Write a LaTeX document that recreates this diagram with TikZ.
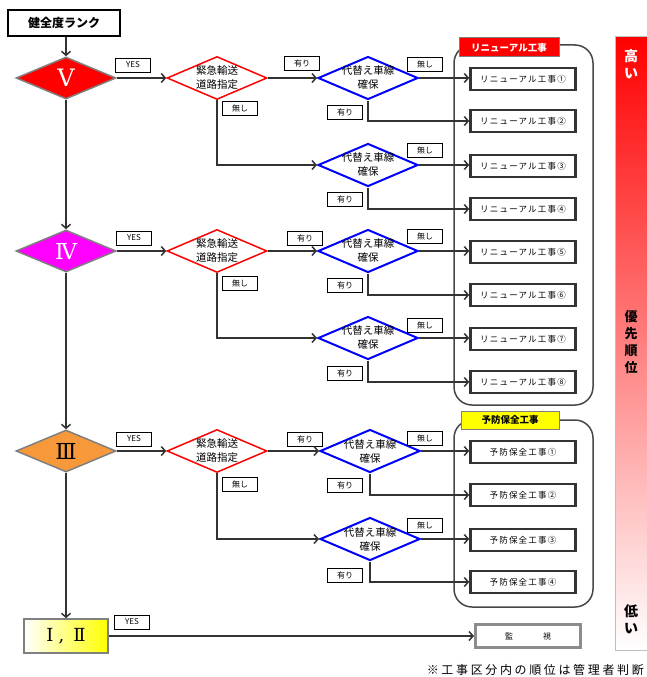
\documentclass[tikz,border=0pt]{standalone}
\usepackage{fontspec}
\setmainfont{Noto Sans CJK JP}
\newfontfamily\rmn{DejaVu Serif}
\usetikzlibrary{shapes.geometric,arrows.meta}
\definecolor{ln}{HTML}{333333}
\definecolor{rankorange}{HTML}{F7993B}
\definecolor{grayb}{HTML}{7F7F7F}
\definecolor{mag}{RGB}{255,0,255}
\definecolor{yel}{RGB}{255,255,0}
\definecolor{rd}{RGB}{255,0,0}
\begin{document}
\begin{tikzpicture}[x=1pt,y=-1pt,
  conn/.style={draw=ln, line width=1.5pt, -{Straight Barb[length=4pt,width=9pt,line width=1.5pt]}},
  lab/.style={draw=black, line width=0.8pt, fill=white, minimum width=35pt, minimum height=14pt, inner sep=0pt, font=\fontsize{8}{9}\selectfont},
  rank/.style={diamond, draw=grayb, line width=1.5pt, minimum width=100pt, minimum height=42pt, inner sep=0pt},
  road/.style={diamond, draw=rd, line width=1.5pt, fill=white, minimum width=100pt, minimum height=43pt, inner sep=0pt},
  alt/.style={road, draw=blue, line width=2pt},
  dtext/.style={align=center, font=\fontsize{10.5}{14}\selectfont, inner sep=0pt},
  work/.style={draw=ln, line width=2.5pt, fill=white, minimum width=105pt, minimum height=22pt, inner sep=0pt, font=\fontsize{8.5}{10}\selectfont\addfontfeatures{LetterSpace=14}},
  group/.style={draw=ln!90, line width=1.5pt, rounded corners=18pt, minimum width=139pt},
  tab/.style={draw=grayb, line width=1pt, inner sep=0pt, font=\bfseries\fontsize{9.5}{11}\selectfont}
]
\useasboundingbox (0,0) rectangle (646,677);

% priority bar
\node[draw=gray!50, line width=1pt, minimum width=34pt, minimum height=613pt, inner sep=0pt,
  top color=rd, middle color={rgb,255:red,248;green,170;blue,170}, bottom color=white] (bar) at (632,343.5) {};
\node[text=white, align=center, font=\bfseries\fontsize{14}{17}\selectfont] (hi) at (631,64) {高\\い};
\node[align=center, font=\bfseries\fontsize{13}{17}\selectfont] (prio) at (631,342) {優\\先\\順\\位};
\node[align=center, font=\bfseries\fontsize{14}{17}\selectfont] (lo) at (631,619) {低\\い};

% groups
\node[group, minimum height=360pt] (ren) at (523.5,225) {};
\node[group, minimum height=187pt] (pre) at (523.5,513.5) {};
\node[tab, fill=rd, text=white, minimum width=100pt, minimum height=19pt] (rentab) at (509,47.5) {リニューアル工事};
\node[tab, fill=yel, minimum width=98pt, minimum height=18pt] (pretab) at (510,420) {予防保全工事};

% title
\node[draw=black, line width=2pt, minimum width=112pt, minimum height=26pt, inner sep=0pt, font=\bfseries\fontsize{12}{14}\selectfont] (title) at (64,23) {健全度ランク};

% rank diamonds
\node[rank, fill=rd, label={[text=white, font=\rmn\fontsize{24}{24}\selectfont]center:V}] (V) at (66,78) {};
\node[rank, fill=mag, label={[text=white, font=\rmn\fontsize{22}{22}\selectfont]center:Ⅳ}] (IV) at (66,251) {};
\node[rank, fill=rankorange, label={[font=\rmn\fontsize{22}{22}\selectfont]center:Ⅲ}] (III) at (66,451) {};
\node[draw=grayb, line width=1.5pt, left color=white, right color=yel, minimum width=84pt, minimum height=34pt, inner sep=0pt, font=\rmn\fontsize{18}{18}\selectfont] (I2) at (66,636) {Ⅰ\hspace{5pt},\hspace{9pt}Ⅱ};

% road diamonds
\node[road, label={[dtext]center:緊急輸送\\道路指定}] (R1) at (217,78) {};
\node[road, label={[dtext]center:緊急輸送\\道路指定}] (R2) at (217,251) {};
\node[road, label={[dtext]center:緊急輸送\\道路指定}] (R3) at (217,451) {};

% alternate line diamonds
\node[alt, label={[dtext]center:代替え車線\\確保}] (B1) at (368,78) {};
\node[alt, label={[dtext]center:代替え車線\\確保}] (B2) at (368,165) {};
\node[alt, label={[dtext]center:代替え車線\\確保}] (B3) at (368,251) {};
\node[alt, label={[dtext]center:代替え車線\\確保}] (B4) at (368,338) {};
\node[alt, label={[dtext]center:代替え車線\\確保}] (B5) at (370,451) {};
\node[alt, label={[dtext]center:代替え車線\\確保}] (B6) at (370,539) {};

% work boxes
\node[work] (W1) at (523,79) {リニューアル工事①};
\node[work] (W2) at (523,121) {リニューアル工事②};
\node[work] (W3) at (523,166) {リニューアル工事③};
\node[work] (W4) at (523,209) {リニューアル工事④};
\node[work] (W5) at (523,252) {リニューアル工事⑤};
\node[work] (W6) at (523,295) {リニューアル工事⑥};
\node[work] (W7) at (523,339) {リニューアル工事⑦};
\node[work] (W8) at (523,382) {リニューアル工事⑧};
\node[work] (P1) at (523,452) {予防保全工事①};
\node[work] (P2) at (523,495) {予防保全工事②};
\node[work] (P3) at (523,540) {予防保全工事③};
\node[work] (P4) at (523,582) {予防保全工事④};
\node[draw=grayb!90, line width=3pt, fill=white, minimum width=105pt, minimum height=23pt, inner sep=0pt, font=\fontsize{8}{10}\selectfont] (M) at (528,636) {監\hspace{30pt}視};

% labels
\node[lab] (y1) at (133,65) {YES};
\node[lab] (y2) at (134,238) {YES};
\node[lab] (y3) at (134,439) {YES};
\node[lab] (y4) at (132,622) {YES};
\node[lab] (a1) at (302,63) {有り};
\node[lab] (a2) at (305,238) {有り};
\node[lab] (a3) at (305,439) {有り};
\node[lab] (n1) at (240,108) {無し};
\node[lab] (n2) at (240,283) {無し};
\node[lab] (n3) at (240,484) {無し};
\node[lab] (nb1) at (425,64) {無し};
\node[lab] (nb2) at (425,150) {無し};
\node[lab] (nb3) at (425,236) {無し};
\node[lab] (nb4) at (425,325) {無し};
\node[lab] (nb5) at (425,438) {無し};
\node[lab] (nb6) at (425,525) {無し};
\node[lab] (ab1) at (345,112) {有り};
\node[lab] (ab2) at (345,199) {有り};
\node[lab] (ab3) at (345,285) {有り};
\node[lab] (ab4) at (345,373) {有り};
\node[lab] (ab5) at (345,485) {有り};
\node[lab] (ab6) at (345,575) {有り};

% note
\node[anchor=east, inner sep=0pt, font=\fontsize{12}{13}\selectfont\addfontfeatures{LetterSpace=22}] (note) at (644,670) {※工事区分内の順位は管理者判断};

% connectors
\draw[conn] (title.south -| V.north) -- (V.north);
\draw[conn] (V.south) -- (IV.north);
\draw[conn] (IV.south) -- (III.north);
\draw[conn] (III.south) -- (I2.north);
\draw[conn] (V.east) -- (R1.west);
\draw[conn] (IV.east) -- (R2.west);
\draw[conn] (III.east) -- (R3.west);
\draw[conn] (R1.east) -- (B1.west);
\draw[conn] (R2.east) -- (B3.west);
\draw[conn] (R3.east) -- (B5.west);
\draw[conn] (R1.south) |- (B2.west);
\draw[conn] (R2.south) |- (B4.west);
\draw[conn] (R3.south) |- (B6.west);
\draw[conn] (B1.east) -- (B1.east -| W1.west);
\draw[conn] (B1.south) |- (W2.west);
\draw[conn] (B2.east) -- (B2.east -| W3.west);
\draw[conn] (B2.south) |- (W4.west);
\draw[conn] (B3.east) -- (B3.east -| W5.west);
\draw[conn] (B3.south) |- (W6.west);
\draw[conn] (B4.east) -- (B4.east -| W7.west);
\draw[conn] (B4.south) |- (W8.west);
\draw[conn] (B5.east) -- (B5.east -| P1.west);
\draw[conn] (B5.south) |- (P2.west);
\draw[conn] (B6.east) -- (B6.east -| P3.west);
\draw[conn] (B6.south) |- (P4.west);
\draw[conn] (I2.east) -- (M.west);
\end{tikzpicture}
\end{document}
